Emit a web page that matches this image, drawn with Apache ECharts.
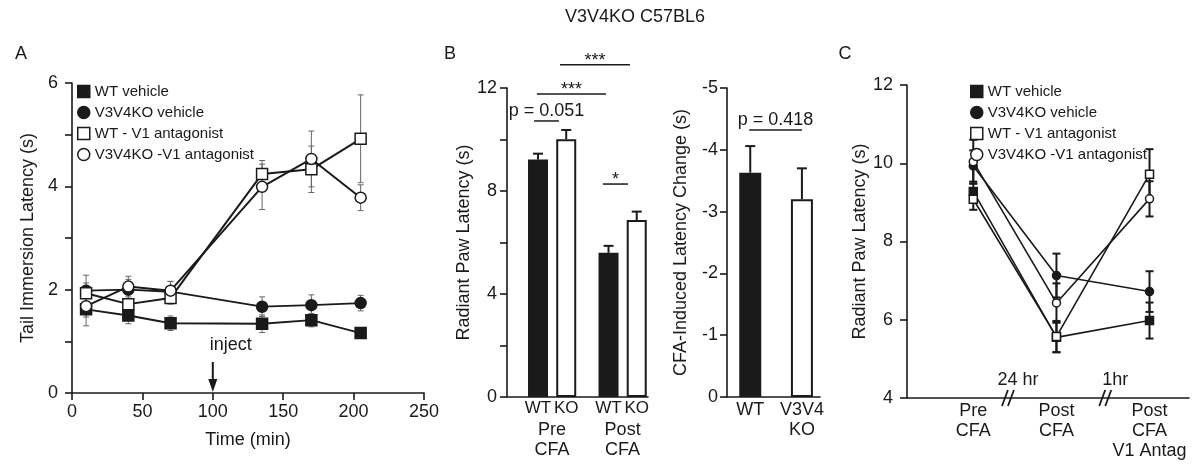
<!DOCTYPE html>
<html>
<head>
<meta charset="utf-8">
<script src="https://cdn.jsdelivr.net/npm/echarts@6.0.0/dist/echarts.min.js"></script>
<style>
html, body { margin: 0; padding: 0; background: #fff; }
#chart { width: 1200px; height: 470px; }
</style>
</head>
<body>
<div id="chart"></div>
<script>
// ---- panel A: tail immersion latency over time ----
const timeA = [10, 40, 70, 135, 170, 205];
const wtVehA = [1.62, 1.50, 1.35, 1.34, 1.41, 1.16];
const koVehA = [1.98, 2.00, 1.96, 1.67, 1.70, 1.74];
const wtAntA = [1.93, 1.72, 1.84, 4.24, 4.33, 4.92];
const koAntA = [1.68, 2.06, 1.98, 3.99, 4.53, 3.78];
const wtVehAErr = [0.15, 0.16, 0.14, 0.17, 0.13, 0.05];
const koVehAErr = [0.30, 0.20, 0.20, 0.19, 0.20, 0.15];
const wtAntAErr = [0.20, 0.18, 0.12, 0.26, 0.45, 0.85];
const koAntAErr = [0.38, 0.20, 0.18, 0.44, 0.54, 0.25];

// ---- panel B: radiant paw latency bars + CFA induced change ----
const groupsB = ['Pre\nCFA', 'Post\nCFA'];
const genotypeB = ['WT', 'KO', 'WT', 'KO'];
const pawB = [9.22, 10.01, 5.60, 6.87];
const pawBErr = [0.23, 0.36, 0.27, 0.33];
const changeCats = ['WT', 'V3V4\nKO'];
const changeB = [-3.63, -3.20];
const changeBErr = [0.43, 0.50];
// significance brackets: [from, to, height, label]
const sigB = [
  [0.96, 1.84, 10.72, 'p = 0.051'],
  [1.06, 3.51, 11.77, '***'],
  [1.88, 4.36, 12.90, '***'],
  [3.40, 4.29, 8.27, '*']
];
const sigChange = [[0.43, 1.45, -4.32, 'p = 0.418']];

// ---- panel C: radiant paw latency, V1 antagonist ----
const stagesC = ['Pre\nCFA', 'Post\nCFA', 'Post\nCFA\nV1 Antag'];
const wtVehC = [9.28, 5.55, 5.98];
const koVehC = [9.93, 7.13, 6.72];
const wtAntC = [9.08, 5.57, 9.72];
const koAntC = [10.04, 6.43, 9.09];
const wtVehCErr = [0.20, 0.38, 0.46];
const koVehCErr = [0.40, 0.56, 0.52];
const wtAntCErr = [0.27, 0.40, 0.64];
const koAntCErr = [0.56, 0.50, 0.45];

const names = ['WT vehicle', 'V3V4KO vehicle', 'WT - V1 antagonist', 'V3V4KO -V1 antagonist'];

// layout slots on the value axes (not data)
const slotB = [1.1, 2.1, 3.6, 4.6];
const slotGroupB = [1.6, 4.1];
const slotChange = [0.45, 1.45];
const slotC = [2.35, 5.3, 8.6];

const FONT = 'Liberation Sans, Arial, Helvetica, sans-serif';
const INK = '#1a1a1a';
const marks = [
  { symbol: 'rect', fill: INK },
  { symbol: 'circle', fill: INK },
  { symbol: 'rect', fill: '#fff' },
  { symbol: 'circle', fill: '#fff' }
];

function lineSeries(i, xi, yi, xs, ys, size, lw) {
  return {
    type: 'line', name: names[i], xAxisIndex: xi, yAxisIndex: yi, z: 3,
    symbol: marks[i].symbol, symbolSize: size,
    data: xs.map((x, k) => [x, ys[k]]),
    lineStyle: { color: INK, width: lw },
    itemStyle: { color: marks[i].fill, borderColor: INK, borderWidth: 1.5, opacity: 1 }
  };
}

// error bars drawn through the axes' own scale
function errSeries(xi, yi, xs, ys, errs, o) {
  return {
    type: 'custom', xAxisIndex: xi, yAxisIndex: yi, z: o.z || 2, silent: true,
    data: xs.map((x, k) => [x, ys[k], errs[k]]),
    renderItem(params, api) {
      const x = api.value(0), y = api.value(1), e = api.value(2) * (o.dir || 1);
      const top = api.coord([x, y + e]);
      const bot = api.coord([x, o.oneSided ? y : y - e]);
      const w = o.cap / 2;
      const st = { stroke: o.color, lineWidth: o.width };
      const kids = [
        { type: 'line', shape: { x1: top[0], y1: top[1], x2: bot[0], y2: bot[1] }, style: st },
        { type: 'line', shape: { x1: top[0] - w, y1: top[1], x2: top[0] + w, y2: top[1] }, style: st }
      ];
      if (!o.oneSided) kids.push({ type: 'line', shape: { x1: bot[0] - w, y1: bot[1], x2: bot[0] + w, y2: bot[1] }, style: st });
      return { type: 'group', children: kids };
    }
  };
}

const axisLine = { show: true, lineStyle: { color: INK, width: 1.6 } };
const tick = { show: true, length: 7, lineStyle: { color: INK, width: 1.6 } };
const lbl = { color: INK, fontSize: 18, fontFamily: FONT };
const nameStyle = { color: INK, fontSize: 18, fontFamily: FONT };

function legend(left, top) {
  return {
    left: left, top: top, orient: 'vertical', selectedMode: false, padding: 0,
    itemWidth: 12, itemHeight: 12, itemGap: 6,
    textStyle: { color: INK, fontSize: 15, fontFamily: FONT },
    data: names.map((n, i) => ({
      name: n, icon: marks[i].symbol,
      itemStyle: { color: marks[i].fill, borderColor: INK, borderWidth: 1.5 }
    }))
  };
}

const chart = echarts.init(document.getElementById('chart'));
chart.setOption({
  animation: false,
  backgroundColor: '#fff',
  textStyle: { fontFamily: FONT },
  legend: [legend(77, 84), legend(970, 84)],
  grid: [
    { left: 72, top: 83, width: 352, height: 310 },
    { left: 507, top: 88, width: 141, height: 309 },
    { left: 727, top: 88, width: 93, height: 309 },
    { left: 907, top: 85, width: 282, height: 313 }
  ],
  xAxis: [
    {
      gridIndex: 0, type: 'value', min: 0, max: 250, interval: 50,
      axisLine: axisLine, axisTick: tick, splitLine: { show: false },
      axisLabel: Object.assign({ margin: 10 }, lbl),
      name: 'Time (min)', nameLocation: 'middle', nameGap: 38, nameTextStyle: nameStyle
    },
    {
      gridIndex: 1, type: 'value', min: 0, max: 5, position: 'bottom',
      axisLine: axisLine, axisTick: { show: false }, splitLine: { show: false },
      axisLabel: Object.assign({}, lbl, { margin: 3, fontSize: 17, customValues: slotB,
        formatter: v => genotypeB[slotB.indexOf(v)] })
    },
    {
      gridIndex: 1, type: 'value', min: 0, max: 5, position: 'bottom', offset: 0,
      axisLine: { show: false }, axisTick: { show: false }, splitLine: { show: false },
      axisLabel: Object.assign({ margin: 23, lineHeight: 20, customValues: slotGroupB,
        formatter: v => groupsB[slotGroupB.indexOf(v)] }, lbl)
    },
    {
      gridIndex: 2, type: 'value', min: 0, max: 1.8,
      axisLine: axisLine, axisTick: { show: false }, splitLine: { show: false },
      axisLabel: Object.assign({ margin: 3, lineHeight: 20, customValues: slotChange,
        formatter: v => changeCats[slotChange.indexOf(v)] }, lbl)
    },
    {
      gridIndex: 3, type: 'value', min: 0, max: 10,
      axisLine: axisLine, axisTick: { show: false }, splitLine: { show: false },
      axisLabel: Object.assign({ margin: 3, lineHeight: 20, customValues: slotC,
        formatter: v => stagesC[slotC.indexOf(v)] }, lbl)
    }
  ],
  yAxis: [
    {
      gridIndex: 0, type: 'value', min: 0, max: 6, interval: 1,
      axisLine: axisLine, axisTick: tick, splitLine: { show: false },
      axisLabel: Object.assign({ margin: 14, formatter: v => (v % 2 === 0 ? v : '') }, lbl),
      name: 'Tail Immersion Latency (s)', nameLocation: 'middle', nameGap: 35, nameTextStyle: nameStyle
    },
    {
      gridIndex: 1, type: 'value', min: 0, max: 12, interval: 2,
      axisLine: axisLine, axisTick: tick, splitLine: { show: false },
      axisLabel: Object.assign({ margin: 10, formatter: v => (v % 4 === 0 ? v : '') }, lbl),
      name: 'Radiant Paw Latency (s)', nameLocation: 'middle', nameGap: 33, nameTextStyle: nameStyle
    },
    {
      gridIndex: 2, type: 'value', min: -5, max: 0, interval: 1, inverse: true,
      axisLine: axisLine, axisTick: tick, splitLine: { show: false },
      axisLabel: Object.assign({ margin: 9 }, lbl),
      name: 'CFA-Induced Latency Change (s)', nameLocation: 'middle', nameGap: 37, nameTextStyle: nameStyle
    },
    {
      gridIndex: 3, type: 'value', min: 4, max: 12, interval: 2,
      axisLine: axisLine, axisTick: tick, splitLine: { show: false },
      axisLabel: Object.assign({ margin: 14 }, lbl),
      name: 'Radiant Paw Latency (s)', nameLocation: 'middle', nameGap: 33, nameTextStyle: nameStyle
    }
  ],
  series: [
    // A
    errSeries(0, 0, timeA, wtVehA, wtVehAErr, { cap: 6, color: '#666', width: 1 }),
    errSeries(0, 0, timeA, koVehA, koVehAErr, { cap: 6, color: '#666', width: 1 }),
    errSeries(0, 0, timeA, wtAntA, wtAntAErr, { cap: 6, color: '#666', width: 1 }),
    errSeries(0, 0, timeA, koAntA, koAntAErr, { cap: 6, color: '#666', width: 1 }),
    lineSeries(0, 0, 0, timeA, wtVehA, 11, 1.8),
    lineSeries(1, 0, 0, timeA, koVehA, 11, 1.8),
    lineSeries(2, 0, 0, timeA, wtAntA, 11, 2),
    lineSeries(3, 0, 0, timeA, koAntA, 11, 2),
    // B left
    {
      type: 'bar', xAxisIndex: 1, yAxisIndex: 1, barWidth: 20, z: 2,
      data: slotB.map((x, k) => ({
        value: [x, pawB[k]],
        itemStyle: k % 2 === 0 ? { color: INK } : { color: '#fff', borderColor: INK, borderWidth: 2 }
      }))
    },
    errSeries(1, 1, slotB, pawB, pawBErr, { cap: 10, color: INK, width: 2, oneSided: true, z: 1 }),
    // B right
    {
      type: 'bar', xAxisIndex: 3, yAxisIndex: 2, barWidth: 22, z: 2,
      data: slotChange.map((x, k) => ({
        value: [x, changeB[k]],
        itemStyle: k === 0 ? { color: INK } : { color: '#fff', borderColor: INK, borderWidth: 2 }
      }))
    },
    errSeries(3, 2, slotChange, changeB, changeBErr, { cap: 10, color: INK, width: 2, oneSided: true, dir: -1, z: 1 }),
    // C
    errSeries(4, 3, slotC, wtVehC, wtVehCErr, { cap: 8, color: INK, width: 2 }),
    errSeries(4, 3, slotC, koVehC, koVehCErr, { cap: 8, color: INK, width: 2 }),
    errSeries(4, 3, slotC, wtAntC, wtAntCErr, { cap: 8, color: INK, width: 2 }),
    errSeries(4, 3, slotC, koAntC, koAntCErr, { cap: 8, color: INK, width: 2 }),
    lineSeries(0, 4, 3, slotC, wtVehC, 8, 1.6),
    lineSeries(1, 4, 3, slotC, koVehC, 8, 1.6),
    lineSeries(2, 4, 3, slotC, wtAntC, 8, 1.6),
    lineSeries(3, 4, 3, slotC, koAntC, 8, 1.6)
  ]
});

// annotations placed through the axes
const g = [];
function txt(x, y, s, size, align) {
  g.push({ type: 'text', x: x, y: y, silent: true,
    style: { text: s, fill: INK, font: (size || 18) + 'px ' + FONT, align: align || 'center', verticalAlign: 'middle' } });
}
function seg(x1, y1, x2, y2, w) {
  g.push({ type: 'line', silent: true, shape: { x1: x1, y1: y1, x2: x2, y2: y2 }, style: { stroke: INK, lineWidth: w || 1.5 } });
}
txt(635, 17, 'V3V4KO C57BL6', 18);
txt(21, 54, 'A');
txt(450, 54, 'B');
txt(845, 54, 'C');

function brackets(list, finder) {
  list.forEach(b => {
    const p1 = chart.convertToPixel(finder, [b[0], b[2]]);
    const p2 = chart.convertToPixel(finder, [b[1], b[2]]);
    seg(p1[0], p1[1], p2[0], p2[1], 1.5);
    const star = b[3].indexOf('*') === 0;
    txt((p1[0] + p2[0]) / 2, p1[1] - (star ? 4 : 10), b[3], 18);
  });
}
brackets(sigB, { xAxisIndex: 1, yAxisIndex: 1 });
brackets(sigChange, { xAxisIndex: 3, yAxisIndex: 2 });

// inject arrow at 100 min
const a1 = chart.convertToPixel({ xAxisIndex: 0, yAxisIndex: 0 }, [100, 0.6]);
const a2 = chart.convertToPixel({ xAxisIndex: 0, yAxisIndex: 0 }, [100, 0.02]);
seg(a1[0], a1[1], a2[0], a2[1] - 8, 2);
g.push({ type: 'polygon', silent: true,
  shape: { points: [[a2[0] - 4.5, a2[1] - 13], [a2[0] + 4.5, a2[1] - 13], [a2[0], a2[1]]] },
  style: { fill: INK } });
txt(a1[0] - 3, a1[1] - 17, 'inject', 18, 'left');

// axis breaks in C
[[3.65, '24 hr'], [7.1, '1hr']].forEach(b => {
  const p = chart.convertToPixel({ xAxisIndex: 4, yAxisIndex: 3 }, [b[0], 4]);
  g.push({ type: 'rect', silent: true, shape: { x: p[0] - 4, y: p[1] - 3, width: 6, height: 6 }, style: { fill: '#fff' } });
  seg(p[0] - 8, p[1] + 8, p[0] - 2, p[1] - 8, 1.8);
  seg(p[0] - 2, p[1] + 8, p[0] + 4, p[1] - 8, 1.8);
  txt(p[0] + 8, p[1] - 18, b[1], 18);
});

chart.setOption({ graphic: g });
</script>
</body>
</html>
